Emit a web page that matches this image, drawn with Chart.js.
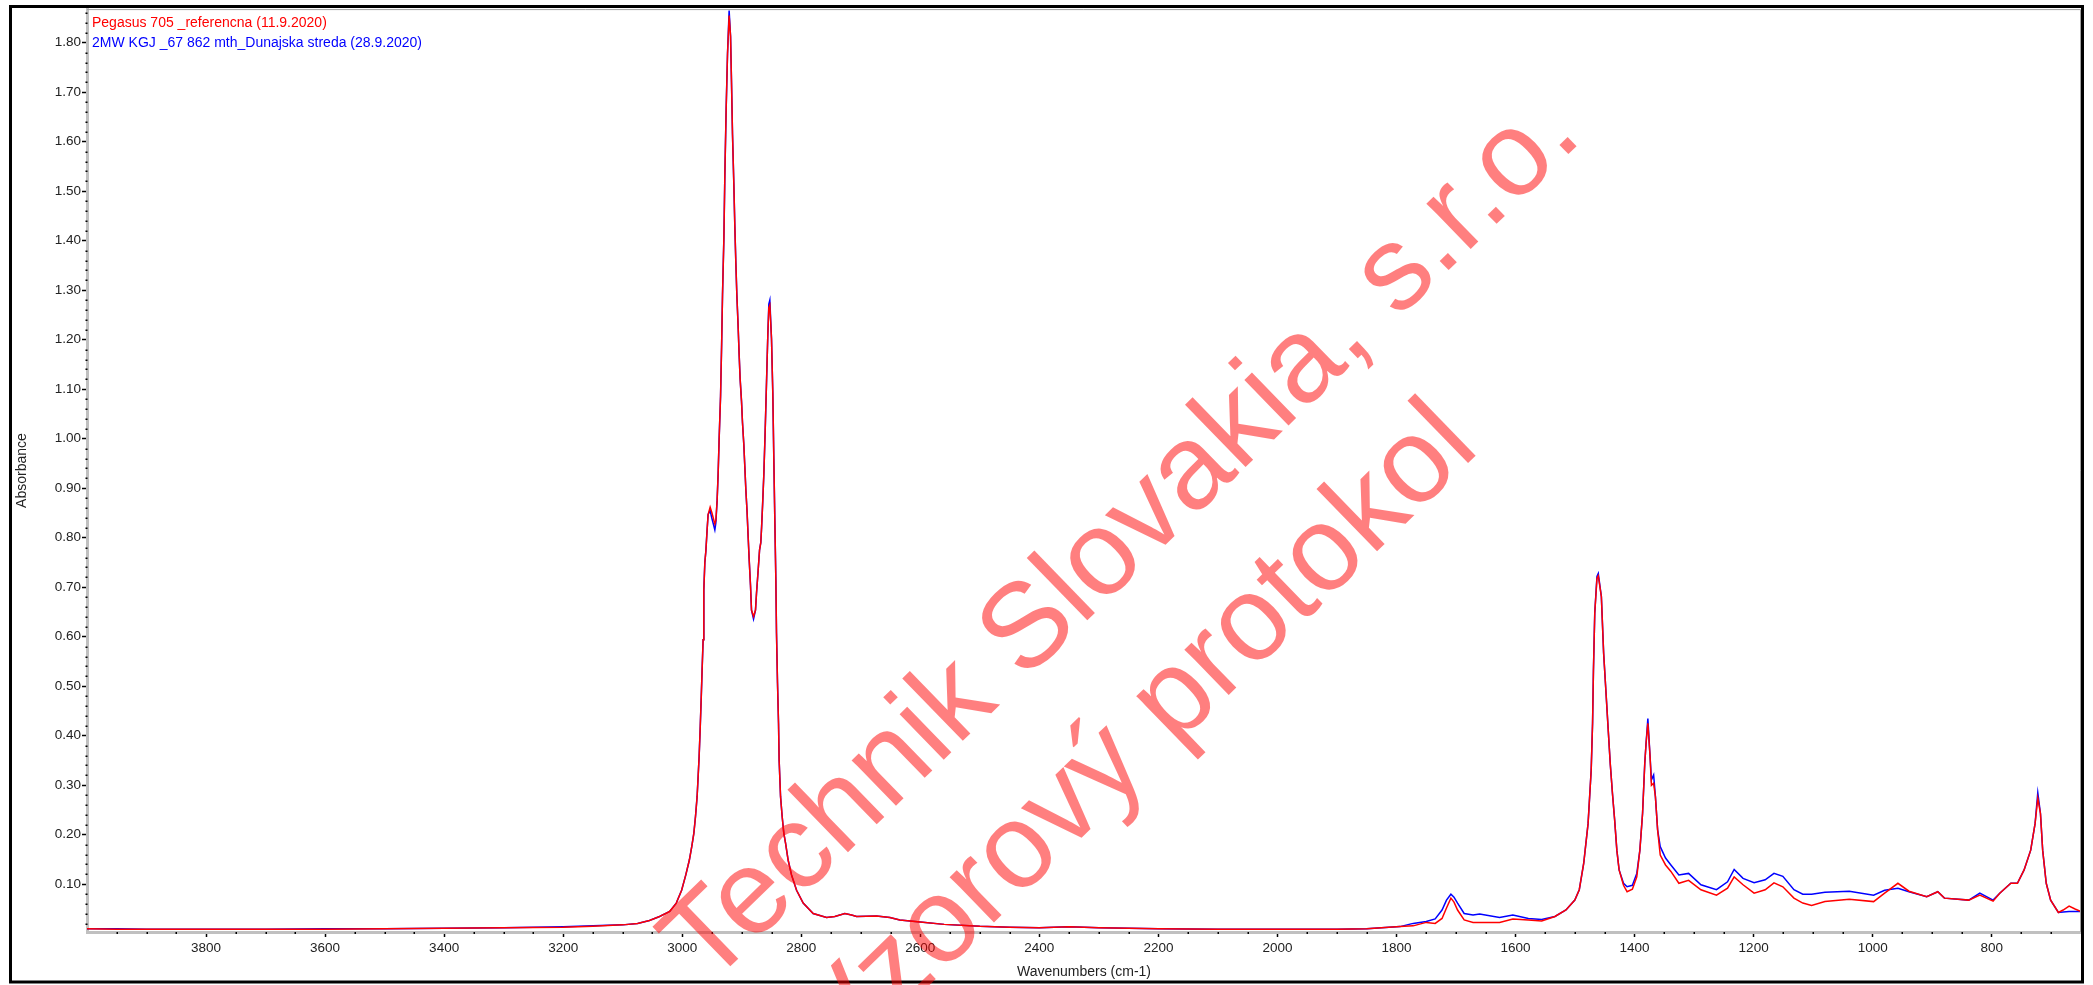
<!DOCTYPE html>
<html>
<head>
<meta charset="utf-8">
<title>FTIR spektrum</title>
<script src="https://cdn.jsdelivr.net/npm/chart.js@4.4.0/dist/chart.umd.min.js"></script>
<style>
  html, body { margin: 0; padding: 0; background: #fff; }
  #graf { display: block; }
</style>
</head>
<body>
<canvas id="graf" width="2093" height="985"></canvas>
<script>
// nazvy kriviek
const nazovReferencie = 'Pegasus 705 _referencna (11.9.2020)';
const nazovVzorky = '2MW KGJ _67 862 mth_Dunajska streda (28.9.2020)';

// vlnocty (cm-1), odcitane z obrazka
const vlnocty = [
  4000, 3950, 3900, 3800, 3700, 3600, 3500, 3400, 3300, 3200, 3150, 3100, 3075, 3055, 3038, 3021, 3010,
  3001, 2994, 2988, 2984, 2980.5, 2977.7, 2975, 2973.3, 2971.6, 2969.9, 2968.2, 2966.6, 2964.9, 2963.7,
  2962, 2960.3, 2958.2, 2956.5, 2953.1, 2950.3, 2945.2, 2943.5, 2941.4, 2939.7, 2938, 2935.6, 2933.9,
  2932.3, 2930, 2928.4, 2926.2, 2923.9, 2921.2, 2918.8, 2917.2, 2915.5, 2913.3, 2911.6, 2909.9, 2908.2,
  2906.1, 2904.4, 2902.7, 2900.4, 2898.7, 2896.5, 2894.8, 2893.1, 2891, 2889.3, 2887.6, 2885.3, 2883.6,
  2880.2, 2876.9, 2875.2, 2872.4, 2870.1, 2868, 2866.7, 2865, 2862.9, 2860.7, 2858.4, 2856.2, 2854.5,
  2852.8, 2850, 2847.8, 2846.1, 2844.4, 2842.7, 2841.6, 2839.9, 2838.2, 2837.2, 2834.8, 2832.1, 2829.3,
  2826.4, 2822.1, 2816.4, 2807.9, 2796.8, 2780, 2757.5, 2743.6, 2726.8, 2715.5, 2707.1, 2673.5, 2651.1,
  2634.4, 2600, 2560, 2500, 2450, 2400, 2350, 2300, 2200, 2100, 2000, 1900, 1850, 1794, 1772, 1750, 1735,
  1723.5, 1716, 1708.6, 1703.4, 1697.4, 1686.3, 1671.4, 1660.3, 1626.8, 1604.5, 1578.5, 1556.1, 1533.8,
  1515.3, 1500.4, 1492.9, 1485.5, 1478.1, 1472.9, 1470.6, 1469.1, 1466.9, 1463.2, 1461, 1455.8, 1452,
  1448.3, 1444.6, 1440.9, 1437.2, 1433.5, 1429.8, 1426, 1418.6, 1412.6, 1403.7, 1396.3, 1391.1, 1386.6,
  1382.9, 1380.7, 1377.7, 1374, 1371.7, 1368, 1365, 1361.3, 1356.9, 1348, 1339, 1325.6, 1309.3, 1288.5,
  1262.4, 1243.8, 1232.7, 1217.8, 1199.2, 1180.6, 1165.8, 1150.9, 1132.3, 1117.4, 1102.6, 1080.2, 1039.3,
  998.4, 979.9, 957.6, 939, 909.2, 890.6, 879.5, 838.6, 820, 797.7, 786.5, 767.9, 756.8, 745.6, 734.5,
  727.1, 722.6, 718.1, 714.4, 708.4, 701, 688, 680, 670, 660, 650
];

// absorbancia - referencna vzorka (cervena)
const referencna = [
  0.010, 0.009, 0.009, 0.009, 0.009, 0.009, 0.010, 0.011, 0.012, 0.013, 0.015, 0.018, 0.021, 0.027, 0.035, 0.045, 0.062,
  0.088, 0.119, 0.149, 0.176, 0.203, 0.237, 0.277, 0.317, 0.358, 0.412, 0.472, 0.533, 0.594, 0.695,
  0.750, 0.773, 0.816, 0.847, 0.862, 0.851, 0.828, 0.835, 0.875, 0.928, 0.999, 1.086, 1.184,
  1.291, 1.406, 1.532, 1.666, 1.778, 1.855, 1.813, 1.720, 1.614, 1.515, 1.429, 1.355, 1.290,
  1.228, 1.171, 1.121, 1.076, 1.032, 0.988, 0.943, 0.897, 0.851, 0.804, 0.758, 0.704, 0.654,
  0.641, 0.654, 0.688, 0.735, 0.775, 0.790, 0.820, 0.866, 0.928, 1.013, 1.113, 1.210, 1.265,
  1.270, 1.202, 1.091, 0.959, 0.835, 0.715, 0.607, 0.506, 0.425, 0.351, 0.277, 0.237, 0.203,
  0.183, 0.149, 0.119, 0.088, 0.062, 0.041, 0.033, 0.035, 0.041, 0.038, 0.035, 0.036, 0.033,
  0.028, 0.024, 0.019, 0.015, 0.013, 0.012, 0.014, 0.012, 0.010, 0.009, 0.009, 0.009, 0.010, 0.0145, 0.016, 0.023, 0.021,
  0.031, 0.052, 0.072, 0.064, 0.048, 0.028, 0.023, 0.023, 0.023, 0.030, 0.028, 0.026, 0.035,
  0.048, 0.068, 0.089, 0.142, 0.223, 0.331, 0.425, 0.533, 0.648, 0.718, 0.723, 0.681, 0.567,
  0.493, 0.418, 0.344, 0.284, 0.230, 0.169, 0.129, 0.098, 0.085, 0.090, 0.115, 0.169, 0.243,
  0.344, 0.385, 0.425, 0.358, 0.300, 0.304, 0.277, 0.210, 0.159, 0.139, 0.126, 0.102, 0.108, 0.089,
  0.078, 0.092, 0.115, 0.099, 0.082, 0.089, 0.103, 0.095, 0.072, 0.062, 0.057, 0.065, 0.070,
  0.065, 0.082, 0.102, 0.086, 0.075, 0.085, 0.072, 0.068, 0.078, 0.066, 0.082, 0.102, 0.102, 0.129, 0.169,
  0.223, 0.274, 0.243, 0.169, 0.102, 0.068, 0.043, 0.048, 0.056, 0.050, 0.045
];

// absorbancia - vzorka z Dunajskej stredy (modra)
const vzorka = [
  0.010, 0.010, 0.009, 0.009, 0.009, 0.010, 0.010, 0.011, 0.012, 0.014, 0.016, 0.018, 0.021, 0.027, 0.035, 0.045, 0.062,
  0.088, 0.119, 0.149, 0.176, 0.203, 0.237, 0.277, 0.317, 0.358, 0.412, 0.472, 0.533, 0.594, 0.695,
  0.750, 0.773, 0.816, 0.847, 0.855, 0.840, 0.816, 0.830, 0.875, 0.928, 0.999, 1.086, 1.184,
  1.291, 1.406, 1.532, 1.666, 1.778, 1.865, 1.813, 1.720, 1.614, 1.515, 1.429, 1.355, 1.290,
  1.228, 1.171, 1.121, 1.076, 1.032, 0.988, 0.943, 0.897, 0.851, 0.804, 0.758, 0.704, 0.654,
  0.636, 0.654, 0.688, 0.735, 0.775, 0.790, 0.820, 0.866, 0.928, 1.013, 1.113, 1.210, 1.272,
  1.280, 1.202, 1.091, 0.959, 0.835, 0.715, 0.607, 0.506, 0.425, 0.351, 0.277, 0.237, 0.203,
  0.183, 0.149, 0.119, 0.088, 0.062, 0.041, 0.033, 0.035, 0.041, 0.038, 0.035, 0.036, 0.033,
  0.028, 0.024, 0.019, 0.015, 0.013, 0.012, 0.014, 0.012, 0.010, 0.009, 0.009, 0.009, 0.010, 0.0145, 0.021, 0.025, 0.030,
  0.048, 0.068, 0.080, 0.074, 0.062, 0.041, 0.038, 0.040, 0.033, 0.038, 0.031, 0.029, 0.035,
  0.048, 0.068, 0.089, 0.142, 0.223, 0.331, 0.425, 0.533, 0.648, 0.722, 0.728, 0.681, 0.567,
  0.493, 0.418, 0.344, 0.284, 0.230, 0.169, 0.129, 0.102, 0.095, 0.098, 0.122, 0.169, 0.243,
  0.344, 0.385, 0.435, 0.358, 0.311, 0.321, 0.277, 0.210, 0.176, 0.153, 0.139, 0.119, 0.122, 0.099,
  0.089, 0.105, 0.130, 0.112, 0.103, 0.109, 0.122, 0.116, 0.089, 0.080, 0.080, 0.084, 0.086,
  0.078, 0.088, 0.092, 0.085, 0.075, 0.085, 0.072, 0.068, 0.082, 0.068, 0.082, 0.102, 0.102, 0.129, 0.169,
  0.223, 0.285, 0.243, 0.169, 0.102, 0.068, 0.043, 0.044, 0.045, 0.045, 0.045
];

// popisky osi
const xPopisky = [3800, 3600, 3400, 3200, 3000, 2800, 2600, 2400, 2200, 2000, 1800, 1600, 1400, 1200, 1000, 800];
const yPopisky = [0.10, 0.20, 0.30, 0.40, 0.50, 0.60, 0.70, 0.80, 0.90, 1.00, 1.10, 1.20, 1.30, 1.40, 1.50, 1.60, 1.70, 1.80];

const pismo = '"Liberation Sans", Arial, sans-serif';

// ram, vedlajsie ciarky, legenda a vodoznak
const ramPlugin = {
  id: 'ram',
  afterDraw(chart) {
    const ctx = chart.ctx;
    const { left, right, top, bottom } = chart.chartArea;
    const sx = chart.scales.x;
    const sy = chart.scales.y;
    ctx.save();

    // vedlajsie ciarky
    ctx.fillStyle = '#000';
    for (let i = 1; i * 0.02 < sy.max; i++) {
      if (i % 5 === 0) continue;
      const py = Math.round(sy.getPixelForValue(i * 0.02));
      ctx.fillRect(left - 1.5, py - 0.5, 2, 1.5);
    }
    for (let w = 700; w < 4000; w += 50) {
      if (w % 200 === 0) continue;
      const px = Math.round(sx.getPixelForValue(w));
      ctx.fillRect(px - 0.5, bottom, 1.5, 2);
    }

    // tenky ram grafu
    ctx.strokeStyle = '#a0a0a0';
    ctx.lineWidth = 1;
    ctx.beginPath();
    ctx.moveTo(left, top + 0.5);
    ctx.lineTo(right - 0.5, top + 0.5);
    ctx.lineTo(right - 0.5, bottom);
    ctx.stroke();

    // vonkajsi ram
    ctx.strokeStyle = '#000';
    ctx.lineWidth = 3;
    ctx.strokeRect(10.5, 6.5, 2072, 975.5);

    // legenda
    ctx.font = '14px ' + pismo;
    ctx.textAlign = 'left';
    ctx.textBaseline = 'alphabetic';
    ctx.fillStyle = '#ff0000';
    ctx.fillText(nazovReferencie, 92, 26.5);
    ctx.fillStyle = '#0000ff';
    ctx.fillText(nazovVzorky, 92, 47.3);

    // vodoznak
    ctx.font = '120px ' + pismo;
    ctx.fillStyle = 'rgba(255, 0, 0, 0.5)';
    ctx.translate(708, 988);
    ctx.rotate(-44.1 * Math.PI / 180);
    ctx.fillText('Technik Slovakia, s.r.o.', 0, 0);
    ctx.fillText('Vzorový protokol', 36, 152);
    ctx.restore();
  }
};

const body = (hodnoty) => vlnocty.map((w, i) => ({ x: w, y: hodnoty[i] }));

new Chart(document.getElementById('graf'), {
  type: 'line',
  data: {
    datasets: [
      {
        label: nazovReferencie,
        data: body(referencna),
        borderColor: '#ff0000',
        borderWidth: 1.5,
        pointRadius: 0,
        tension: 0
      },
      {
        label: nazovVzorky,
        data: body(vzorka),
        borderColor: '#0000ff',
        borderWidth: 1.5,
        pointRadius: 0,
        tension: 0
      }
    ]
  },
  options: {
    responsive: false,
    animation: false,
    layout: { padding: { left: 10, top: 9, right: 12, bottom: 4 } },
    plugins: {
      legend: { display: false },
      tooltip: { enabled: false }
    },
    scales: {
      x: {
        type: 'linear',
        reverse: true,
        min: 650,
        max: 4000,
        afterBuildTicks: (s) => { s.ticks = xPopisky.map(v => ({ value: v })); },
        afterFit: (s) => { s.height = 49; },
        ticks: {
          autoSkip: false,
          maxRotation: 0,
          padding: 3,
          color: '#222',
          font: { family: pismo, size: 13.5 },
          callback: (v) => String(v)
        },
        grid: { drawOnChartArea: false, drawTicks: true, tickLength: 5, tickColor: '#000', tickWidth: 1.5 },
        border: { display: true, color: '#c0c0c0', width: 3 },
        title: {
          display: true,
          text: 'Wavenumbers (cm-1)',
          color: '#222',
          font: { family: pismo, size: 14 },
          padding: { top: 1, bottom: 0 }
        }
      },
      y: {
        min: 0.0036,
        max: 1.868,
        afterBuildTicks: (s) => { s.ticks = yPopisky.map(v => ({ value: v })); },
        afterFit: (s) => { s.width = 77; },
        ticks: {
          autoSkip: false,
          padding: 1,
          color: '#222',
          font: { family: pismo, size: 13.5 },
          callback: (v) => v.toFixed(2)
        },
        grid: { drawOnChartArea: false, drawTicks: true, tickLength: 5, tickColor: '#000', tickWidth: 1.5 },
        border: { display: true, color: '#c0c0c0', width: 3 },
        title: {
          display: true,
          text: 'Absorbance',
          color: '#222',
          font: { family: pismo, size: 14 },
          padding: { top: 4, bottom: 0 }
        }
      }
    }
  },
  plugins: [ramPlugin]
});
</script>
</body>
</html>
